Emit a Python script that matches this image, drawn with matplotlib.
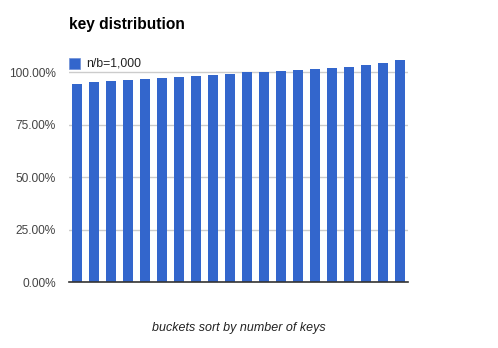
import matplotlib
matplotlib.use("Agg")
import matplotlib.pyplot as plt
from matplotlib.ticker import FuncFormatter

plt.rcParams['font.family'] = ['Liberation Sans', 'DejaVu Sans']

series_name = "n/b=1,000"
buckets = list(range(1, 21))
values = [0.944, 0.954, 0.959, 0.963, 0.968, 0.973, 0.978, 0.983, 0.987, 0.992,
          1.002, 1.002, 1.006, 1.011, 1.016, 1.021, 1.025, 1.035, 1.044, 1.059]
yticks = [0.0, 0.25, 0.5, 0.75, 1.0]

W, H = 498, 348
fig = plt.figure(figsize=(W / 100, H / 100), dpi=100)
left, right = 69, 408
y0, ytop = 282.3, 59.7
ax = fig.add_axes([left / W, (H - y0) / H, (right - left) / W, (y0 - ytop) / H])

x = list(range(len(values)))
ax.bar(x, values, width=0.59, color="#3366cc", zorder=3)
ax.set_xlim(-0.5, len(values) - 0.5)
ax.set_ylim(0, 1.06)
ax.set_yticks(yticks)
ax.yaxis.set_major_formatter(FuncFormatter(lambda v, p: f"{v*100:.2f}%"))
ax.set_xticks([])
for s in ["top", "right", "left"]:
    ax.spines[s].set_visible(False)
ax.spines["bottom"].set_color("#333333")
ax.spines["bottom"].set_linewidth(1.2)
ax.spines["bottom"].set_zorder(4)
ax.tick_params(axis="y", length=0, pad=9.5, labelsize=8.6, labelcolor="#444444")
ax.grid(axis="y", color="#cccccc", linewidth=1, zorder=0)

fig.text(69 / W, 1 - 25 / H, "key distribution", fontsize=11.2, fontweight="bold",
         ha="left", va="center", color="#000000")

# legend
fig.patches.append(plt.Rectangle((69 / W, 1 - 69 / H), 11 / W, 11 / H,
                                 transform=fig.transFigure, facecolor="#3366cc",
                                 edgecolor="#6e8fd6", linewidth=0.5))
fig.text(86 / W, 1 - 63.5 / H, series_name, fontsize=8.8, ha="left", va="center",
         color="#222222")

fig.text((left + right) / 2 / W, 1 - 328 / H, "buckets sort by number of keys",
         fontsize=9, style="italic", ha="center", va="center", color="#222222")

fig.savefig("out.png", dpi=100)
